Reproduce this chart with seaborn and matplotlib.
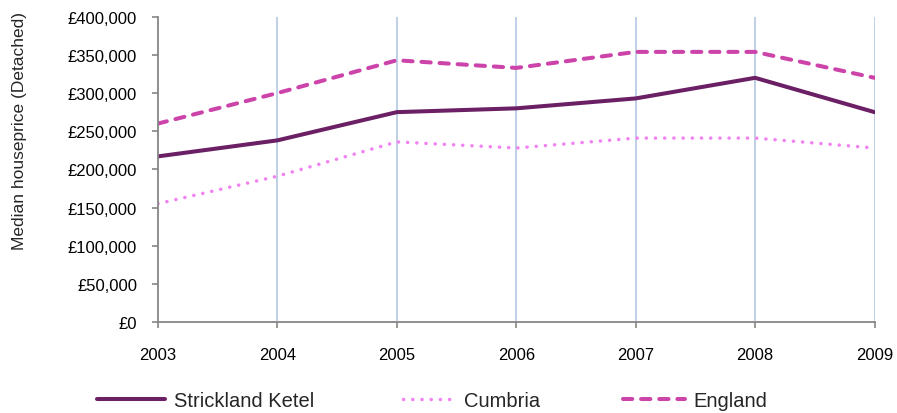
import pandas as pd
import matplotlib.pyplot as plt
import matplotlib.ticker as mticker
import seaborn as sns

# Median detached house prices
years = [2003, 2004, 2005, 2006, 2007, 2008, 2009]
strickland = [217000, 238000, 275000, 280000, 293000, 320000, 275000]
cumbria = [155000, 191000, 236000, 228000, 241000, 241000, 228000]
england = [260000, 300000, 343000, 333000, 354000, 354000, 320000]
series_names = ['Strickland Ketel', 'Cumbria', 'England']

df = pd.DataFrame({'year': years * 3,
                   'price': strickland + cumbria + england,
                   'area': [n for n in series_names for _ in years]})

sns.set_style('white')
plt.rcParams['font.family'] = ['Liberation Sans', 'DejaVu Sans']

fig, ax = plt.subplots(figsize=(8.97, 4.14), dpi=100)
fig.subplots_adjust(left=0.176, right=0.975, top=0.957, bottom=0.22)

palette = {'Strickland Ketel': '#6b1f65', 'Cumbria': '#f282f2', 'England': '#cc44aa'}
dashes = {'Strickland Ketel': '', 'Cumbria': (0.05, 2.6), 'England': (2.3, 2.2)}
widths = {'Strickland Ketel': 2.9, 'Cumbria': 2.5, 'England': 2.9}

sns.lineplot(data=df, x='year', y='price', hue='area', style='area',
             palette=palette, dashes=dashes, linewidth=2.8, ax=ax, legend=False)
for line, name in zip(ax.get_lines(), series_names):
    line.set_linewidth(widths[name])
    line.set_dash_capstyle('round')

for y in years[1:]:
    ax.axvline(y, color='#b9cde5', lw=1.3, zorder=0)

ax.set_xlim(2003, 2009)
ax.set_ylim(0, 400000)
ax.set_xticks(years)
ax.set_yticks(range(0, 400001, 50000))
ax.yaxis.set_major_formatter(mticker.FuncFormatter(lambda v, p: f'£{int(v):,}'))
ax.set_xlabel('')
ax.set_ylabel('')
fig.text(20 / 897, 1 - 131 / 414, 'Median houseprice (Detached)', rotation=90,
         ha='center', va='center', fontsize=12.5)
ax.tick_params(axis='both', labelsize=12, colors='#000000', length=4,
               width=1.2, direction='out', bottom=True, left=True)
ax.tick_params(axis='x', pad=14, color='#868686')
ax.tick_params(axis='y', pad=11, color='#868686')
for s in ['top', 'right']:
    ax.spines[s].set_visible(False)
for s in ['left', 'bottom']:
    ax.spines[s].set_color('#868686')
    ax.spines[s].set_linewidth(1.3)

# one legend entry per series, placed like the original
legend_x = [97, 403, 623]
handle_len = [3.4, 2.65, 3.1]
for name, lx, hl in zip(series_names, legend_x, handle_len):
    h = plt.Line2D([], [], color=palette[name], lw=widths[name],
                   linestyle=(0, dashes[name]) if dashes[name] else '-',
                   dash_capstyle='round')
    fig.legend([h], [name], loc='lower left', frameon=False,
               bbox_to_anchor=(lx / 897, 0.008), fontsize=14.5, handlelength=hl,
               handletextpad=0.4, borderpad=0, borderaxespad=0)

fig.savefig('out.png', dpi=100)
